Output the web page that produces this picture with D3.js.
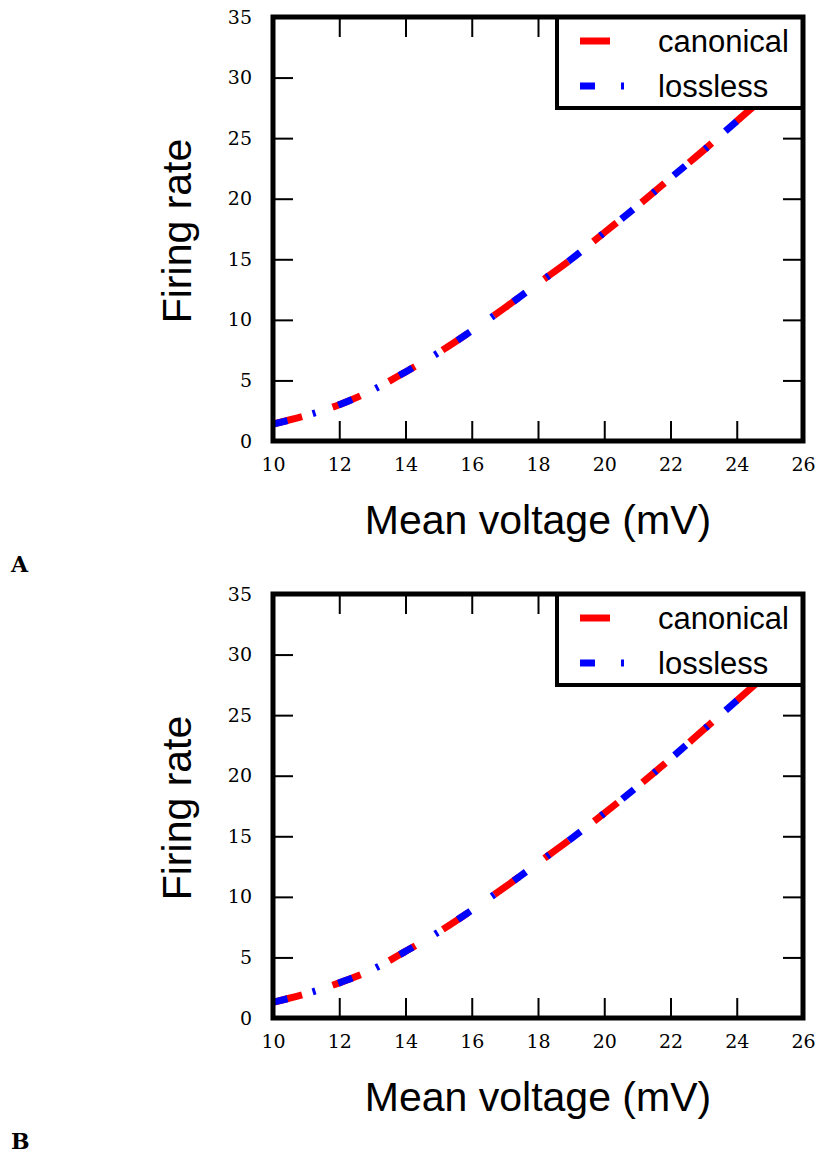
<!DOCTYPE html>
<html>
<head>
<meta charset="utf-8">
<script src="https://cdn.jsdelivr.net/npm/d3@7/dist/d3.min.js"></script>
<style>
  body { margin: 0; background: #fff; }
  svg { display: block; }
</style>
</head>
<body>
<svg id="chart" width="819" height="1155"></svg>
<script>
// data
const voltage = [10, 11, 12, 13, 14, 15, 16, 17, 18, 19, 20, 21, 22, 23, 24, 25, 26];
const rateA = [1.4, 2.1, 3.0, 4.2, 5.7, 7.3, 9.1, 11.0, 13.0, 15.0, 17.2, 19.4, 21.7, 24.0, 26.4, 28.8, 31.2];
const rateB = [1.3, 2.0, 2.9, 4.0, 5.5, 7.1, 8.9, 10.8, 12.8, 14.8, 16.9, 19.1, 21.4, 23.8, 26.2, 28.6, 31.0];
const xTicks = [10, 12, 14, 16, 18, 20, 22, 24, 26];
const yTicks = [0, 5, 10, 15, 20, 25, 30, 35];
const seriesNames = ["canonical", "lossless"];
const seriesColors = ["#ff0000", "#0000ff"];
const seriesDash = ["30,32", "15,26,3,24"];

const svg = d3.select("#chart");

const left = 273, right = 803, plotH = 424;
const width = right - left;

function drawPanel(top, rates, letter, id) {
  const g = svg.append("g").attr("transform", `translate(${left},${top})`);

  const x = d3.scaleLinear().domain([10, 26]).range([0, width]);
  const y = d3.scaleLinear().domain([0, 35]).range([plotH, 0]);

  g.append("clipPath").attr("id", "clip" + id)
    .append("rect").attr("width", width).attr("height", plotH);

  const data = voltage.map((v, i) => ({ v: v, r: rates[i] }));
  const line = d3.line().x(d => x(d.v)).y(d => y(d.r)).curve(d3.curveMonotoneX);

  // canonical underneath, lossless on top
  seriesNames.forEach((name, i) => {
    g.append("path")
      .datum(data)
      .attr("clip-path", `url(#clip${id})`)
      .attr("fill", "none")
      .attr("stroke", seriesColors[i])
      .attr("stroke-width", 7)
      .attr("stroke-dasharray", seriesDash[i])
      .attr("d", line);
  });

  // ticks on all four sides, pointing inward
  const tl = 20;
  const bottomAx = g.append("g").attr("transform", `translate(0,${plotH})`)
    .call(d3.axisBottom(x).tickValues(xTicks).tickSizeInner(-tl).tickSizeOuter(0).tickPadding(17));
  const topAx = g.append("g")
    .call(d3.axisTop(x).tickValues(xTicks).tickSizeInner(-tl).tickSizeOuter(0).tickFormat(""));
  const leftAx = g.append("g")
    .call(d3.axisLeft(y).tickValues(yTicks).tickSizeInner(-tl).tickSizeOuter(0).tickPadding(21));
  const rightAx = g.append("g").attr("transform", `translate(${width},0)`)
    .call(d3.axisRight(y).tickValues(yTicks).tickSizeInner(-tl).tickSizeOuter(0).tickFormat(""));

  [bottomAx, topAx, leftAx, rightAx].forEach(a => {
    a.select(".domain").remove();
    a.selectAll(".tick line").attr("stroke", "#000").attr("stroke-width", 2);
    a.selectAll("text")
      .attr("fill", "#000")
      .style("font-family", "'DejaVu Serif', serif")
      .style("font-size", "19px");
  });

  // legend box (white, drawn over the lines)
  const lg = g.append("g").attr("transform", `translate(${557 - left},0)`);
  lg.append("rect")
    .attr("width", right - 557).attr("height", 91)
    .attr("fill", "#fff").attr("stroke", "#000").attr("stroke-width", 4);
  seriesNames.forEach((name, i) => {
    const ly = 24 + i * 45;
    lg.append("line")
      .attr("x1", 23).attr("x2", 67)
      .attr("y1", ly).attr("y2", ly)
      .attr("stroke", seriesColors[i])
      .attr("stroke-width", 7)
      .attr("stroke-dasharray", seriesDash[i]);
    lg.append("text")
      .attr("x", 101).attr("y", ly + 11)
      .style("font-family", "'Liberation Sans', Arial, sans-serif")
      .style("font-size", "31px")
      .text(name);
  });

  // frame
  g.append("rect")
    .attr("width", width).attr("height", plotH)
    .attr("fill", "none").attr("stroke", "#000").attr("stroke-width", 5);

  // axis titles
  g.append("text")
    .attr("x", width / 2).attr("y", plotH + 93)
    .attr("text-anchor", "middle")
    .style("font-family", "'Liberation Sans', Arial, sans-serif")
    .style("font-size", "41px")
    .text("Mean voltage (mV)");

  g.append("text")
    .attr("transform", `translate(-82,${plotH / 2 + 2}) rotate(-90)`)
    .attr("text-anchor", "middle")
    .style("font-family", "'Liberation Sans', Arial, sans-serif")
    .style("font-size", "41px")
    .text("Firing rate");

  svg.append("text")
    .attr("x", 11).attr("y", top + plotH + 131)
    .style("font-family", "'DejaVu Serif', serif")
    .style("font-weight", "bold")
    .style("font-size", "22px")
    .text(letter);
}

drawPanel(17, rateA, "A", "A");
drawPanel(594, rateB, "B", "B");
</script>
</body>
</html>
